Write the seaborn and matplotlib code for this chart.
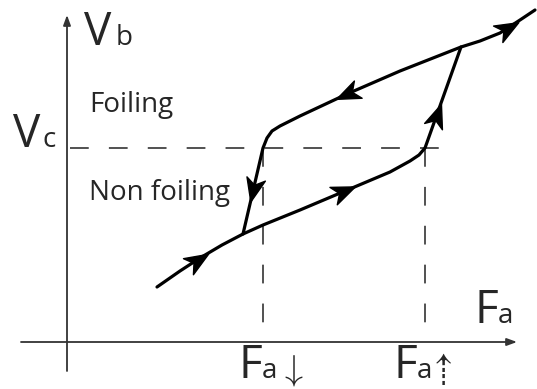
import numpy as np
import pandas as pd
import matplotlib
matplotlib.use("Agg")
import matplotlib.pyplot as plt
import seaborn as sns
from matplotlib.path import Path
from matplotlib.markers import MarkerStyle
from matplotlib.transforms import Affine2D

# ---- data (arbitrary units; origin at the axes crossing) ----
rise_x = [9.0, 11.3, 13.3, 15.5, 17.6, 19.6, 23.3, 27.8, 32.3, 34.3, 35.2, 35.8, 39.4, 41.3, 43.3, 45.3, 46.8]
rise_y = [5.5, 7.1, 8.4, 9.7, 10.8, 11.7, 13.2, 15.1, 17.0, 18.1, 18.7, 19.4, 29.5, 30.1, 30.9, 32.2, 33.2]
fall_x = [39.4, 33.3, 28.0, 23.3, 21.3, 20.5, 20.0, 19.6, 17.6]
fall_y = [29.5, 27.1, 24.8, 22.6, 21.6, 21.1, 20.4, 19.4, 10.8]

arrow_x = [13.1, 27.7, 37.0, 44.1, 28.0, 18.6]
arrow_y = [8.2, 15.1, 22.7, 31.4, 24.8, 15.2]
arrow_dx = [4.2, 9.0, 3.6, 5.5, -10.0, -2.0]
arrow_dy = [2.6, 3.8, 10.1, 3.1, -4.5, -8.6]

Vc = 19.4
Fa_down = 19.6
Fa_up = 35.8

df_rise = pd.DataFrame({"x": rise_x, "y": rise_y})
df_fall = pd.DataFrame({"x": fall_x, "y": fall_y})

plt.rcParams["lines.scale_dashes"] = False
sns.set_style("white")
plt.rcParams["font.family"] = ["Open Sans", "DejaVu Sans"]

fig = plt.figure(figsize=(5.37, 3.89), dpi=100)
ax = fig.add_axes([0, 0, 1, 1])
ax.set_xlim(-6.7, 47.0)
ax.set_ylim(-4.7, 34.2)
ax.axis("off")

# axes with arrows
axc = "#333333"
ax.annotate("", xy=(0, 32.7), xytext=(0, -2.9),
            arrowprops=dict(arrowstyle="-|>,head_length=0.6,head_width=0.22", color=axc, lw=1.3, shrinkA=0, shrinkB=0))
ax.annotate("", xy=(45.0, 0), xytext=(-4.6, 0),
            arrowprops=dict(arrowstyle="-|>,head_length=0.6,head_width=0.22", color=axc, lw=1.3, shrinkA=0, shrinkB=0))

# dashed guide lines
dash = (0, (13.5, 14.5))
ax.plot([0.3, 39.1], [Vc, Vc], color="#222222", lw=1.1, ls=dash)
ax.plot([Fa_down, Fa_down], [Vc, 0], color="#222222", lw=1.1, ls=dash)
ax.plot([Fa_up, Fa_up], [Vc, 0], color="#222222", lw=1.1, ls=dash)

# hysteresis curves
sns.lineplot(data=df_rise, x="x", y="y", sort=False, estimator=None, color="black", lw=2.3, ax=ax)
sns.lineplot(data=df_fall, x="x", y="y", sort=False, estimator=None, color="black", lw=2.3, ax=ax)
ax.set_xlim(-6.7, 47.0)
ax.set_ylim(-4.7, 34.2)

# arrowheads (stealth shape)
verts = [(1.0, 0.0), (-1.0, 0.8), (-0.45, 0.0), (-1.0, -0.8), (1.0, 0.0)]
codes = [Path.MOVETO, Path.LINETO, Path.LINETO, Path.LINETO, Path.CLOSEPOLY]
head = Path(verts, codes)
for x, y, dx, dy in zip(arrow_x, arrow_y, arrow_dx, arrow_dy):
    ang = np.degrees(np.arctan2(dy, dx))
    m = MarkerStyle(head, transform=Affine2D().rotate_deg(ang))
    ax.plot([x], [y], marker=m, markersize=17, color="black", mec="black", ls="none")

# texts
big = 33
small = 20
ax.text(1.7, 29.7, "V", fontsize=big, ha="left", va="baseline")
ax.text(4.9, 29.7, "b", fontsize=small, ha="left", va="baseline")
ax.text(-5.4, 19.5, "V", fontsize=big, ha="left", va="baseline")
ax.text(-2.5, 19.5, "c", fontsize=small, ha="left", va="baseline")
ax.text(2.2, 23.0, "Foiling", fontsize=small, ha="left", va="baseline")
ax.text(2.2, 14.2, "Non foiling", fontsize=small, ha="left", va="baseline")
ax.text(40.8, 1.9, "F", fontsize=big, ha="left", va="baseline")
ax.text(43.1, 1.9, "a", fontsize=small, ha="left", va="baseline")
ax.text(17.2, -3.6, "F", fontsize=big, ha="left", va="baseline")
ax.text(19.5, -3.6, "a", fontsize=small, ha="left", va="baseline")
ax.text(22.4, -1.0, r"$\downarrow$", fontsize=26, ha="center", va="top", math_fontfamily="cm")
ax.text(32.7, -3.6, "F", fontsize=big, ha="left", va="baseline")
ax.text(35.0, -3.6, "a", fontsize=small, ha="left", va="baseline")
ax.text(37.6, -1.0, "⇡", fontsize=27, ha="center", va="top", family=["STIXGeneral", "DejaVu Sans"])

fig.savefig("out.png", dpi=100)
